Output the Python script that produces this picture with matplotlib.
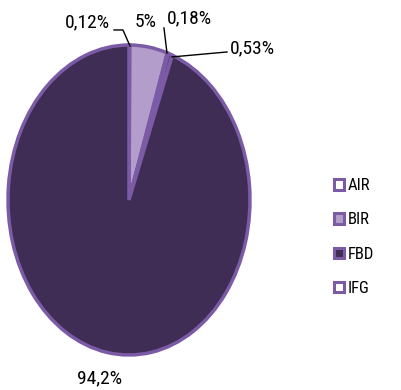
import matplotlib.pyplot as plt
from matplotlib.patches import Patch
from matplotlib import font_manager

# Datos del gráfico
valores = [0.12, 5, 0.18, 0.53, 94.2]
etiquetas_valor = ["0,12%", "5%", "0,18%", "0,53%", "94,2%"]
categorias = ["AIR", "BIR", "FBD", "IFG"]

borde = "#7B5BA6"
oscuro = "#3F2D55"
lavanda = "#B29DCB"
blanco = "#FFFFFF"
colores_sectores = [blanco, lavanda, borde, oscuro, oscuro]
colores_leyenda = [blanco, lavanda, oscuro, blanco]

# Fuente estrecha si existe
nombres = {f.name for f in font_manager.fontManager.ttflist}
fuente = "Lato"
for candidata in ["Liberation Sans Narrow", "Roboto Condensed", "Open Sans Condensed"]:
    if candidata in nombres:
        fuente = candidata
        break
plt.rcParams["font.family"] = [fuente, "DejaVu Sans"]

fig = plt.figure(figsize=(4.02, 3.90), dpi=100)
ax = fig.add_axes([8 / 402, 35 / 390, 242 / 402, 310 / 390])

sectores, _ = ax.pie(valores, colors=colores_sectores, startangle=90,
                     counterclock=False,
                     wedgeprops=dict(edgecolor=borde, linewidth=2.5))
ax.set_aspect("auto")
ax.set_xlim(-1, 1)
ax.set_ylim(-1, 1)

# Líneas guía
guia = dict(color="black", lw=1, clip_on=False)
ax.plot([-0.124, -0.05, 0.008], [1.097, 1.097, 0.994], **guia)
ax.plot([0.289, 0.314], [1.11, 0.948], **guia)
ax.plot([0.355, 0.81], [0.923, 0.955], **guia)

# Etiquetas de porcentaje
tam = 14
ax.text(-0.157, 1.148, etiquetas_valor[0], fontsize=tam, ha="right", va="center")
ax.text(0.14, 1.148, etiquetas_valor[1], fontsize=tam, ha="center", va="center")
ax.text(0.314, 1.174, etiquetas_valor[2], fontsize=tam, ha="left", va="center")
ax.text(0.835, 0.98, etiquetas_valor[3], fontsize=tam, ha="left", va="center")
ax.text(-0.24, -1.148, etiquetas_valor[4], fontsize=tam, ha="center", va="center")

manijas = [Patch(facecolor=c, edgecolor=borde, linewidth=2.2) for c in colores_leyenda]
fig.legend(manijas, categorias, loc="upper left",
           bbox_to_anchor=(326 / 402, 1 - 170 / 390), frameon=False,
           fontsize=12, handlelength=0.6, handleheight=0.6,
           handletextpad=0.2, labelspacing=1.15, borderpad=0)

fig.savefig("out.png", dpi=100)
